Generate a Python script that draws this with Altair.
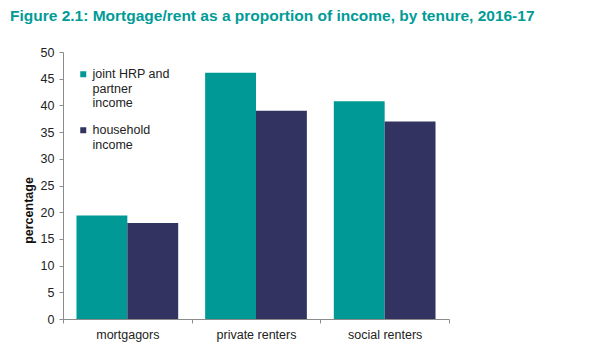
import altair as alt
import pandas as pd

categories = ["mortgagors", "private renters", "social renters"]
series = ["joint HRP and partner income", "household income"]
joint_values = [19.4, 46.1, 40.8]
household_values = [18.0, 39.0, 37.0]

rows = []
for c, j, h in zip(categories, joint_values, household_values):
    rows.append({"tenure": c, "series": series[0], "value": j})
    rows.append({"tenure": c, "series": series[1], "value": h})
df = pd.DataFrame(rows)

FONT = "Liberation Sans"

label_expr = ("datum.label == 'joint HRP and partner income' ? "
              "['joint HRP and', 'partner', 'income'] : ['household', 'income']")

chart = alt.Chart(df).mark_bar().encode(
    x=alt.X("tenure:N", sort=categories,
            scale=alt.Scale(paddingInner=0, paddingOuter=0),
            axis=alt.Axis(title=None, labelAngle=0, labelFont=FONT, labelFontSize=12.5,
                          labelColor="#222222", labelPadding=5, domainColor="#8c8c8c",
                          tickColor="#8c8c8c", tickSize=4, tickBand="extent")),
    xOffset=alt.XOffset("series:N", sort=series,
                        scale=alt.Scale(paddingInner=0, paddingOuter=0.265)),
    y=alt.Y("value:Q", scale=alt.Scale(domain=[0, 50]),
            axis=alt.Axis(title="percentage", values=list(range(0, 51, 5)), grid=False,
                          labelFont=FONT, labelFontSize=12.5, labelColor="#222222",
                          labelPadding=5, domainColor="#8c8c8c", tickColor="#8c8c8c",
                          tickSize=4, titleFont=FONT, titleFontSize=12.5,
                          titleFontWeight="bold", titleColor="#111111",
                          titleAngle=270, titleX=-35, titleY=158, titleAlign="center",
                          titleBaseline="middle")),
    color=alt.Color("series:N", sort=series,
                    scale=alt.Scale(domain=series, range=["#009995", "#333361"]),
                    legend=alt.Legend(title=None, orient="none", legendX=14, legendY=16,
                                      symbolType="square", symbolSize=36,
                                      symbolStrokeWidth=0, labelFont=FONT,
                                      labelFontSize=12.5, labelColor="#222222",
                                      labelExpr=label_expr, labelBaseline="middle",
                                      labelOffset=3, rowPadding=14)),
).properties(
    width=386,
    height=267,
    autosize=alt.AutoSizeParams(type="none"),
    padding={"left": 63, "top": 52, "right": 140, "bottom": 28},
    title=alt.TitleParams("Figure 2.1: Mortgage/rent as a proportion of income, by tenure, 2016-17",
                          anchor="start", frame="group", dx=-53, offset=10,
                          baseline="alphabetic", font=FONT, fontSize=15.5,
                          fontWeight="bold", color="#009b97"),
).configure_view(stroke=None)

chart.save("out.html", embed_options={"renderer": "svg", "actions": False})
